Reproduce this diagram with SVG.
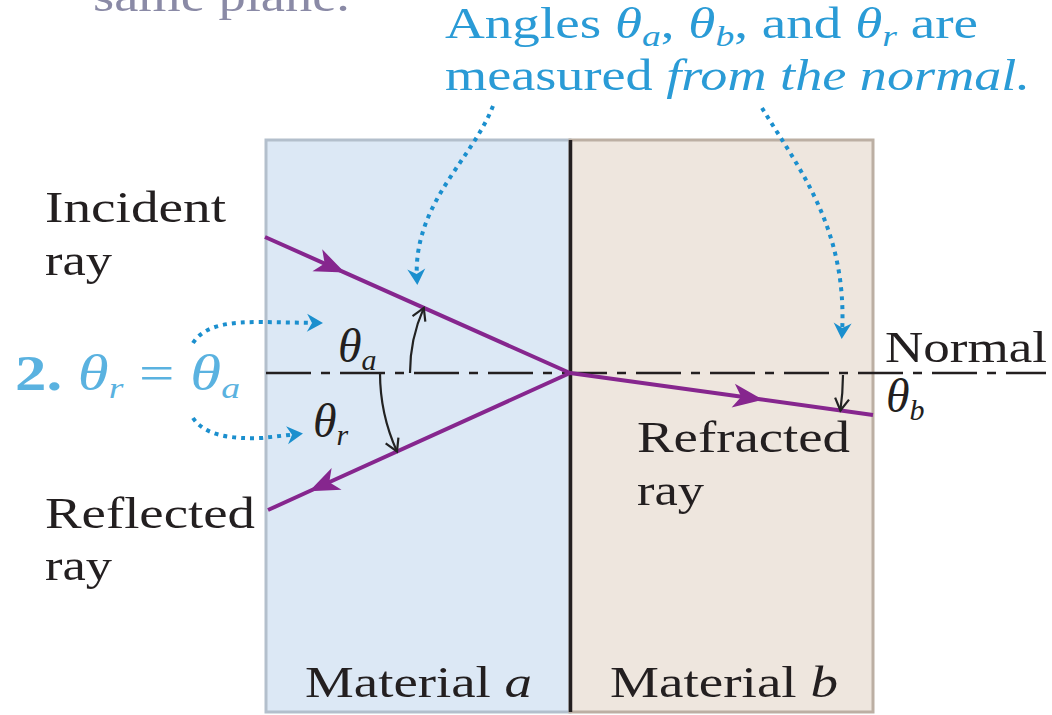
<svg xmlns="http://www.w3.org/2000/svg" width="1052" height="715" viewBox="0 0 1052 715">
<style>
.t{font-family:"Liberation Serif","Times New Roman",serif;font-size:44px;fill:#231f20}
.b{fill:#2a9bd6}
.lb{fill:#5ab2e0}
.i{font-style:italic}
.sub{font-size:30px}
.ray{fill:none;stroke:#86268e;stroke-width:4}
.arc{fill:none;stroke:#222;stroke-width:2.2}
.dot{fill:none;stroke:#1b8fce;stroke-width:4;stroke-dasharray:4 5}
</style>
<defs>
<marker id="rh" markerUnits="userSpaceOnUse" orient="auto" markerWidth="40" markerHeight="30" refX="0" refY="0" viewBox="-30 -15 40 30" overflow="visible">
<path d="M3,0 L-27,-12 L-19,0 L-27,12 Z" fill="#86268e"/>
</marker>
<marker id="ah" markerUnits="userSpaceOnUse" orient="auto" markerWidth="30" markerHeight="30" refX="0" refY="0" viewBox="-15 -15 30 30" overflow="visible">
<path d="M-12,-7 L0,0 L-12,7" fill="none" stroke="#222" stroke-width="2.2"/>
</marker>
<marker id="bh" markerUnits="userSpaceOnUse" orient="auto" markerWidth="30" markerHeight="30" refX="0" refY="0" viewBox="-15 -15 30 30" overflow="visible">
<path d="M5,0 L-11,-9 L-6,0 L-11,9 Z" fill="#1b8fce"/>
</marker>
</defs>

<g id="material-a">
<rect x="266" y="140" width="304" height="572" fill="#dce8f5" stroke="#b3bfcc" stroke-width="3"/>
<text class="t" x="305" y="697" textLength="227" lengthAdjust="spacingAndGlyphs">Material <tspan class="i">a</tspan></text>
</g>
<g id="material-b">
<rect x="570" y="140" width="303" height="572" fill="#eee6de" stroke="#bcafa3" stroke-width="3"/>
<text class="t" x="610" y="697" textLength="228" lengthAdjust="spacingAndGlyphs">Material <tspan class="i">b</tspan></text>
</g>
<g id="interface">
<line x1="570.5" y1="140" x2="570.5" y2="712" stroke="#231f20" stroke-width="3.5"/>
</g>

<g id="normal">
<line x1="266" y1="373" x2="1046" y2="373" stroke="#231f20" stroke-width="2.5" stroke-dasharray="45 10 9 10"/>
<text class="t" x="885" y="362" textLength="162" lengthAdjust="spacingAndGlyphs">Normal</text>
</g>

<g id="connectors">
<path class="ray" d="M265,237 L342,271.3 L570,373" marker-mid="url(#rh)"/>
<path class="ray" d="M570,373 L312,490 L268,510" marker-mid="url(#rh)"/>
<path class="ray" d="M570,373 L760,399.3 L873,415" marker-mid="url(#rh)"/>
<path class="arc" d="M410,373 A160,160 0 0 1 423.8,307.9" marker-end="url(#ah)"/>
<path class="arc" d="M380,373 A190,190 0 0 0 397,451.5" marker-end="url(#ah)"/>
<path class="arc" d="M843,375 A273,273 0 0 1 840.4,410.5" marker-end="url(#ah)"/>
<path class="dot" d="M493,106 C472,160 412,205 417,280" marker-end="url(#bh)"/>
<path class="dot" d="M762,108 C800,170 848,230 842,334" marker-end="url(#bh)"/>
<path class="dot" d="M193,343 C205,324 232,322 262,322 L318,323" marker-end="url(#bh)"/>
<path class="dot" d="M193,418 C205,436 232,439 262,438 L298,434" marker-end="url(#bh)"/>
</g>

<g id="incident-ray">
<text class="t" x="45" y="222" textLength="181" lengthAdjust="spacingAndGlyphs">Incident</text>
<text class="t" x="45" y="275" textLength="67" lengthAdjust="spacingAndGlyphs">ray</text>
</g>
<g id="reflected-ray">
<text class="t" x="45" y="528" textLength="210" lengthAdjust="spacingAndGlyphs">Reflected</text>
<text class="t" x="45" y="580" textLength="67" lengthAdjust="spacingAndGlyphs">ray</text>
</g>
<g id="refracted-ray">
<text class="t" x="637" y="452" textLength="213" lengthAdjust="spacingAndGlyphs">Refracted</text>
<text class="t" x="637" y="505" textLength="67" lengthAdjust="spacingAndGlyphs">ray</text>
</g>

<g id="angle-labels">
<text class="t i" x="338" y="362" font-size="48" style="font-size:48px">θ<tspan class="sub" dy="8">a</tspan></text>
<text class="t i" x="313" y="437" style="font-size:48px">θ<tspan class="sub" dy="8">r</tspan></text>
<text class="t i" x="886" y="412" style="font-size:48px">θ<tspan class="sub" dy="8">b</tspan></text>
</g>

<g id="law">
<text class="t lb" x="15" y="390" style="font-size:50px" textLength="225" lengthAdjust="spacingAndGlyphs"><tspan font-weight="bold">2.</tspan> <tspan class="i">θ</tspan><tspan class="i sub" dy="8">r</tspan><tspan dy="-8"> = </tspan><tspan class="i">θ</tspan><tspan class="i sub" dy="8">a</tspan></text>
</g>

<g id="note">
<text class="t b" x="445" y="38" textLength="533" lengthAdjust="spacingAndGlyphs">Angles <tspan class="i">θ</tspan><tspan class="i sub" dy="8">a</tspan><tspan dy="-8">, </tspan><tspan class="i">θ</tspan><tspan class="i sub" dy="8">b</tspan><tspan dy="-8">, and </tspan><tspan class="i">θ</tspan><tspan class="i sub" dy="8">r</tspan><tspan dy="-8"> are</tspan></text>
<text class="t b" x="445" y="90" textLength="585" lengthAdjust="spacingAndGlyphs">measured <tspan class="i">from the normal.</tspan></text>
</g>
<g id="prev-note">
<text class="t" x="93" y="11" style="fill:#8a8aa6" textLength="257" lengthAdjust="spacingAndGlyphs">same plane.</text>
</g>
</svg>
